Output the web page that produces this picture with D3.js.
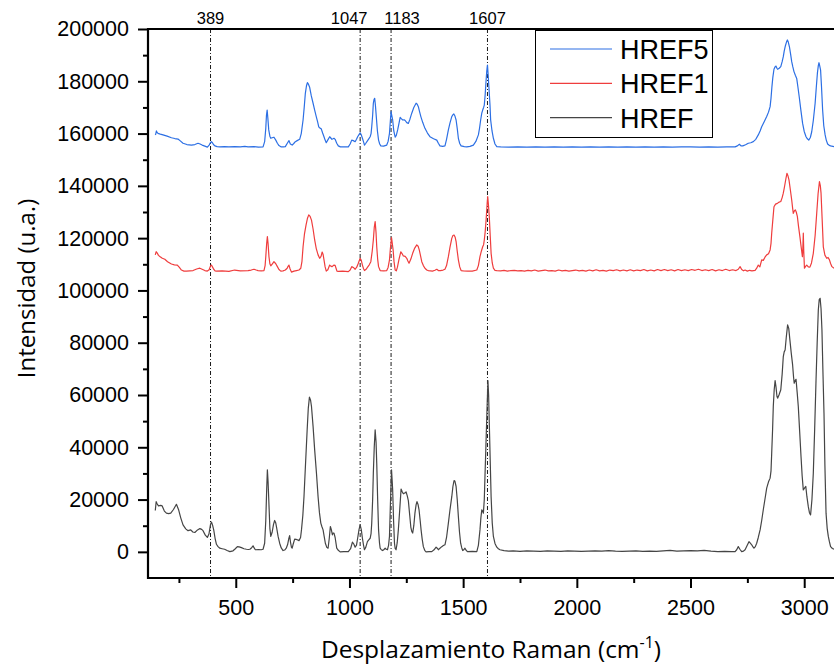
<!DOCTYPE html>
<html>
<head>
<meta charset="utf-8">
<script src="https://cdn.jsdelivr.net/npm/d3@7"></script>
<style>
  html, body { margin: 0; padding: 0; background: #fff; }
  svg { display: block; }
</style>
</head>
<body>
<div id="chart"></div>
<script>
// Raman spectra: wavenumber (cm-1), intensity (a.u., stacked with offsets)
const seriesNames = ["HREF5", "HREF1", "HREF"];
const seriesColors = ["#2c6fe4", "#ef3d3d", "#454545"];

const hrefData = [
[146,15800],[150,19200],[154,18400],[160,17600],[170,17800],[176,17600],[186,15600],[195,14800],[205,14600],[214,14800],[226,16200],[239,18200],[249,16000],[258,13000],[268,10300],[280,8800],[290,8100],[302,8400],[311,7600],[320,7400],[332,8400],[342,8900],[350,8600],[356,8100],[366,6400],[375,5500],[382,6800],[389,10500],[393,11400],[398,10200],[403,8400],[409,5200],[415,2900],[422,2000],[430,1400],[440,1200],[451,1000],[462,500],[474,100],[488,400],[498,1200],[507,2000],[515,1900],[525,1600],[536,1200],[547,1000],[555,900],[562,1000],[570,1600],[576,2300],[581,1500],[586,800],[600,900],[612,800],[620,1000],[627,3300],[632,12000],[636,24000],[639,31400],[642,27000],[646,18000],[650,9000],[654,5900],[660,7500],[666,10500],[671,12000],[676,11000],[680,9100],[686,6000],[693,3300],[700,1500],[708,500],[715,700],[722,1400],[728,2800],[733,5000],[737,6200],[741,3500],[745,1700],[748,1400],[752,2800],[759,4900],[765,4800],[771,4600],[778,4300],[785,5500],[789,8400],[795,14000],[800,21100],[807,34000],[814,46700],[819,55000],[824,59200],[829,58000],[833,55600],[840,48000],[847,39000],[855,30000],[862,21100],[868,15000],[874,11000],[879,9600],[884,8400],[889,5800],[894,3300],[900,1800],[906,1400],[911,5000],[916,9700],[920,8600],[925,6500],[928,7200],[932,7200],[937,5500],[944,1400],[951,600],[959,0],[975,100],[995,100],[1005,1200],[1013,3700],[1019,3000],[1025,1800],[1031,2600],[1036,5200],[1042,8500],[1047,10300],[1052,8500],[1057,5200],[1062,2500],[1066,800],[1072,1800],[1079,3900],[1085,4600],[1091,5200],[1095,7000],[1098,11000],[1102,20000],[1105,30100],[1109,40000],[1113,46700],[1117,42000],[1120,33900],[1124,20000],[1128,8400],[1132,3500],[1135,1400],[1140,800],[1146,500],[1152,900],[1157,1400],[1162,1000],[1167,800],[1172,2500],[1176,5900],[1180,18000],[1185,31400],[1188,27000],[1190,23700],[1194,12000],[1198,3300],[1201,1300],[1205,800],[1210,3500],[1215,8400],[1221,16000],[1227,24000],[1232,23000],[1237,22200],[1243,22500],[1249,22900],[1254,21500],[1259,19600],[1265,14000],[1270,9400],[1274,7800],[1278,7200],[1283,10000],[1288,14800],[1293,18000],[1297,19200],[1302,18000],[1306,16100],[1311,12000],[1315,8400],[1320,4800],[1325,2000],[1331,600],[1337,0],[1350,100],[1362,100],[1372,800],[1381,1800],[1386,1400],[1391,800],[1398,1400],[1406,2000],[1413,2400],[1420,2700],[1427,5500],[1435,11000],[1442,16000],[1450,21100],[1455,25000],[1460,27300],[1464,27000],[1469,25000],[1474,20000],[1479,13500],[1484,7500],[1489,3300],[1494,1500],[1498,500],[1503,800],[1508,1400],[1513,600],[1519,100],[1540,200],[1560,100],[1567,2500],[1574,8400],[1578,13000],[1582,16100],[1586,15500],[1589,14800],[1593,20000],[1596,28800],[1600,40000],[1604,51700],[1609,65500],[1612,60000],[1615,49200],[1619,35000],[1623,21100],[1628,11000],[1633,5900],[1640,3200],[1648,1800],[1655,1200],[1662,800],[1680,500],[1700,300],[1720,400],[1750,200],[1780,400],[1810,300],[1840,200],[1870,400],[1900,300],[1930,200],[1960,400],[1990,300],[2020,200],[2050,300],[2080,400],[2110,300],[2140,500],[2170,300],[2200,200],[2230,300],[2260,400],[2290,200],[2320,300],[2350,200],[2380,400],[2410,600],[2440,300],[2470,400],[2500,500],[2530,400],[2560,600],[2590,300],[2620,100],[2650,200],[2680,100],[2696,100],[2703,800],[2710,2000],[2717,1000],[2725,100],[2733,300],[2740,800],[2750,2600],[2757,3900],[2763,3300],[2769,2700],[2774,2000],[2779,1400],[2785,2000],[2791,3300],[2798,5500],[2806,8400],[2813,12000],[2820,16100],[2828,20500],[2835,24400],[2843,26800],[2850,28200],[2854,31000],[2857,37700],[2861,47000],[2864,55600],[2868,62000],[2872,65500],[2876,63000],[2880,59500],[2883,58800],[2889,60000],[2897,62000],[2903,68000],[2908,74700],[2912,76500],[2916,77200],[2921,82000],[2927,86800],[2932,85500],[2937,81100],[2943,76000],[2949,71500],[2953,67000],[2956,64500],[2960,65500],[2964,66000],[2969,61000],[2974,55600],[2980,46000],[2986,36400],[2991,29000],[2996,23700],[3002,24500],[3007,25000],[3012,21000],[3018,17300],[3023,15000],[3028,14100],[3034,20000],[3040,30100],[3046,47000],[3052,65800],[3057,80000],[3062,92500],[3066,96500],[3070,97000],[3074,93000],[3078,84900],[3082,70000],[3087,53000],[3091,33000],[3096,14800],[3101,9000],[3106,5900],[3111,3800],[3116,2000],[3124,1300],[3131,1000]
];

const href1Data = [
[146,113600],[150,114800],[154,114400],[160,113400],[166,113000],[177,112300],[188,111900],[200,111000],[217,110100],[230,109800],[243,109700],[252,108800],[261,107800],[272,107400],[283,107400],[298,107500],[312,107600],[328,108200],[342,108500],[352,108100],[364,107600],[375,107400],[383,107900],[389,109400],[393,109700],[398,108900],[403,108100],[409,107500],[415,107400],[440,107500],[470,107300],[495,107800],[520,107500],[554,107600],[568,107800],[580,108100],[590,107800],[598,107600],[612,107500],[624,107600],[629,109500],[632,112900],[636,118000],[639,120600],[642,118000],[646,112900],[650,110200],[654,109400],[661,110200],[668,111000],[676,110200],[683,109100],[690,108000],[698,107400],[708,107500],[718,107800],[726,108500],[730,109200],[734,109700],[739,108200],[745,107000],[756,107400],[767,107600],[778,107800],[786,108500],[791,111000],[796,116700],[802,121500],[809,125000],[815,127500],[821,128900],[827,128300],[833,126900],[840,123500],[847,119300],[854,116000],[862,113600],[869,112300],[875,113000],[880,114700],[884,113800],[888,111700],[893,109000],[898,107400],[905,107900],[913,109700],[918,109300],[923,109100],[928,109400],[932,109700],[937,109600],[941,108500],[945,107400],[951,107300],[970,107400],[995,107200],[1003,107800],[1010,109100],[1017,108800],[1025,108100],[1032,108900],[1039,110400],[1047,112300],[1052,111500],[1057,109700],[1062,108300],[1066,107600],[1072,108000],[1079,108800],[1087,109800],[1094,111000],[1100,115000],[1105,119300],[1109,124000],[1113,126300],[1117,122000],[1120,116700],[1124,112000],[1128,109100],[1135,107600],[1150,107500],[1164,107600],[1170,108800],[1176,111700],[1180,116000],[1185,120200],[1189,117500],[1192,115500],[1196,111000],[1201,107800],[1206,107500],[1211,108900],[1218,112000],[1226,114800],[1232,114000],[1237,113200],[1245,113000],[1252,112300],[1257,111300],[1262,110400],[1270,112000],[1278,114200],[1287,116200],[1296,117400],[1302,116900],[1307,115500],[1312,113500],[1318,111000],[1325,109500],[1332,108500],[1340,107800],[1347,107600],[1365,107400],[1376,107700],[1384,108100],[1391,107600],[1400,107600],[1412,107800],[1420,108100],[1427,109500],[1435,112900],[1442,116500],[1450,119900],[1455,121000],[1460,121200],[1465,120300],[1469,118700],[1474,115000],[1479,111700],[1485,109000],[1491,107600],[1501,107500],[1520,107400],[1540,107400],[1560,107800],[1567,109500],[1574,112900],[1580,115000],[1586,116700],[1590,117500],[1593,119300],[1597,122500],[1601,127000],[1605,132500],[1608,135900],[1611,133000],[1615,128200],[1619,121000],[1623,114200],[1628,110500],[1633,108500],[1640,107700],[1648,107600],[1665,107500],[1680,107700],[1695,107400],[1710,107600],[1725,107700],[1740,107500],[1755,107600],[1770,107400],[1785,107700],[1800,107500],[1815,107800],[1830,107400],[1845,107600],[1860,107800],[1875,107500],[1890,107600],[1905,107400],[1920,107800],[1935,107500],[1950,107700],[1965,107400],[1980,107600],[1995,107800],[2010,107500],[2025,107700],[2040,107400],[2055,107800],[2070,107500],[2085,107900],[2100,107500],[2115,107700],[2130,107400],[2145,107800],[2160,107600],[2175,107900],[2190,107500],[2205,107800],[2220,107500],[2235,107900],[2250,107500],[2265,107800],[2280,107600],[2295,108000],[2310,107500],[2325,107800],[2340,107500],[2355,108000],[2370,107600],[2385,108000],[2400,107600],[2415,107900],[2430,107500],[2445,108000],[2460,107600],[2475,107900],[2490,107600],[2505,108000],[2520,107700],[2535,108100],[2550,107600],[2565,107900],[2580,107600],[2595,108000],[2610,107500],[2625,107900],[2640,107600],[2655,108100],[2670,107600],[2685,107900],[2700,107600],[2710,108100],[2718,109100],[2725,108000],[2733,107500],[2740,107800],[2750,107400],[2760,107700],[2770,107500],[2784,107700],[2791,108500],[2798,109700],[2805,109000],[2813,111700],[2820,111500],[2828,112800],[2835,113600],[2843,114000],[2850,115500],[2854,118000],[2857,121900],[2862,127000],[2867,132000],[2874,133000],[2882,133300],[2890,133800],[2897,134000],[2903,135500],[2908,137200],[2912,139000],[2916,141000],[2920,143000],[2924,144800],[2928,144000],[2933,142300],[2939,138500],[2945,134600],[2949,131500],[2952,129500],[2957,130500],[2961,130800],[2965,130000],[2970,128200],[2975,124500],[2981,120600],[2986,117000],[2992,112900],[2994,116000],[2996,121900],[2998,115000],[3001,108500],[3006,109200],[3011,109700],[3018,109000],[3025,108900],[3032,110500],[3040,114200],[3048,121000],[3055,129500],[3061,137000],[3067,141600],[3071,140000],[3074,137200],[3079,127000],[3084,116700],[3091,113500],[3099,112300],[3105,112600],[3111,111700],[3116,110300],[3122,109100],[3131,108500]
];

const href5Data = [
[146,159500],[148,159800],[151,161000],[154,160400],[158,160100],[168,159800],[180,159500],[198,159000],[217,158400],[232,158100],[246,157900],[256,157200],[268,156300],[285,155800],[305,155600],[320,155800],[334,156300],[343,156000],[352,155600],[364,155200],[375,154800],[383,155600],[389,156600],[393,156900],[398,156400],[403,155700],[408,155300],[418,155000],[430,154900],[450,155000],[470,154900],[495,155000],[520,154900],[540,155100],[554,154900],[580,155000],[600,154800],[620,154900],[627,156900],[632,162000],[635,167000],[638,169000],[641,166000],[645,161400],[650,159000],[654,158200],[660,158400],[668,158600],[676,157500],[683,156300],[690,155400],[700,154900],[710,154900],[718,155000],[726,156200],[734,157300],[740,156000],[748,155600],[755,156200],[762,156900],[770,157300],[781,157800],[788,160000],[796,165200],[801,170000],[806,175400],[811,178300],[815,179500],[820,178800],[825,177700],[832,174500],[840,171600],[847,169000],[854,166500],[860,164500],[865,162600],[870,162100],[876,161800],[882,160200],[888,158800],[893,157500],[898,156500],[905,157600],[913,158800],[918,158300],[923,157800],[928,158000],[932,158200],[937,157800],[944,156300],[951,155300],[960,154900],[975,154900],[995,154900],[1003,156000],[1010,157500],[1017,157300],[1025,156900],[1031,157800],[1036,158800],[1042,159600],[1047,160300],[1052,159500],[1057,158200],[1062,156800],[1066,155600],[1072,156300],[1079,157200],[1085,158000],[1091,158800],[1095,160000],[1098,162600],[1102,167000],[1105,171600],[1108,173000],[1111,173500],[1114,171000],[1118,166500],[1123,161000],[1128,157500],[1133,156000],[1138,155300],[1150,155200],[1164,155600],[1170,157000],[1176,160100],[1180,165000],[1183,168400],[1186,167000],[1190,165200],[1195,161000],[1201,158600],[1206,159300],[1212,161400],[1218,164000],[1223,166200],[1228,165700],[1234,165200],[1240,165300],[1245,165000],[1252,164200],[1259,163900],[1266,165500],[1274,167800],[1283,170000],[1293,171600],[1298,171200],[1303,170300],[1308,168500],[1314,166500],[1322,164300],[1332,162000],[1343,160200],[1354,158800],[1370,158000],[1384,157500],[1391,156300],[1398,155300],[1410,155100],[1420,155300],[1427,157800],[1435,161400],[1442,164000],[1450,166500],[1455,167200],[1459,167500],[1464,166700],[1469,165200],[1474,162000],[1479,158200],[1485,156200],[1491,155300],[1505,155000],[1516,154900],[1530,155100],[1545,155600],[1556,157000],[1567,159500],[1572,162000],[1577,165200],[1582,167800],[1586,169000],[1590,170000],[1593,170900],[1597,175000],[1601,180500],[1604,184000],[1607,186200],[1610,182500],[1614,176700],[1618,171000],[1621,165200],[1627,161000],[1633,158200],[1640,156000],[1648,155000],[1665,154900],[1700,154800],[1740,154900],[1780,154800],[1820,154900],[1860,154800],[1900,154900],[1940,154800],[1980,154900],[2020,154800],[2060,154900],[2100,154800],[2140,154900],[2180,154800],[2220,154900],[2260,154800],[2300,154900],[2340,154800],[2380,154900],[2420,154800],[2460,154900],[2500,154900],[2540,154800],[2580,154900],[2620,154800],[2660,154900],[2696,154900],[2706,155300],[2715,155900],[2722,155300],[2730,155300],[2742,155700],[2754,156300],[2765,156500],[2776,156900],[2787,157800],[2798,159500],[2806,161000],[2813,162600],[2824,164500],[2835,166500],[2843,168200],[2850,170300],[2854,173500],[2858,177900],[2862,181500],[2867,184600],[2872,185600],[2876,185800],[2880,185000],[2883,184600],[2890,185000],[2897,185600],[2903,187500],[2908,189400],[2912,191500],[2917,193500],[2922,195000],[2926,195800],[2930,195000],[2935,193200],[2940,190500],[2945,187500],[2950,185500],[2955,183700],[2961,182300],[2967,181100],[2972,178000],[2978,174100],[2986,168500],[2993,163900],[3000,160800],[3008,158800],[3014,158000],[3020,157500],[3027,158500],[3033,160700],[3040,165000],[3048,171600],[3053,177500],[3058,183100],[3062,186000],[3065,187100],[3068,186000],[3072,184300],[3076,178000],[3081,169000],[3086,163000],[3092,159500],[3097,157500],[3103,156000],[3110,155500],[3116,155300],[3131,155000]
];

// Band positions marked with reference lines
const bandMarkers = [389, 1047, 1183, 1607];
// horizontal nudge of each band label (px) so neighbouring labels don't collide
const bandLabelShift = [0, -11, 11, 0];

const xMajorTicks = [500, 1000, 1500, 2000, 2500, 3000];
const xMinorTicks = [250, 750, 1250, 1750, 2250, 2750];
const yMajorTicks = [0, 20000, 40000, 60000, 80000, 100000, 120000, 140000, 160000, 180000, 200000];
const yMinorTicks = [10000, 30000, 50000, 70000, 90000, 110000, 130000, 150000, 170000, 190000];

const W = 834, H = 666;
const plot = { left: 148, right: 834, top: 29, bottom: 578 };

const svg = d3.select("#chart").append("svg")
  .attr("width", W).attr("height", H)
  .attr("viewBox", `0 0 ${W} ${H}`);

const x = d3.scaleLinear().domain([114, 3131]).range([plot.left, plot.right]);
const y = d3.scaleLinear().domain([-10000, 200000]).range([plot.bottom, plot.top]);

svg.append("defs").append("clipPath").attr("id", "plotClip")
  .append("rect")
  .attr("x", plot.left).attr("y", plot.top)
  .attr("width", plot.right - plot.left).attr("height", plot.bottom - plot.top);

const tickFont = "'Liberation Sans', Arial, sans-serif";

// Reference lines for the assigned bands
const markerG = svg.append("g");
bandMarkers.forEach((b, i) => {
  markerG.append("line")
    .attr("x1", x(b)).attr("x2", x(b))
    .attr("y1", plot.top).attr("y2", plot.bottom)
    .attr("stroke", "#000").attr("stroke-width", 0.9)
    .attr("stroke-dasharray", "4,2,1,2");
  markerG.append("text")
    .attr("x", x(b) + bandLabelShift[i]).attr("y", 24)
    .attr("text-anchor", "middle")
    .attr("font-family", tickFont).attr("font-size", 16.5)
    .text(b);
});

// Spectra
const line = d3.line().x(d => x(d[0])).y(d => y(d[1]));
const allSeries = [href5Data, href1Data, hrefData];
const linesG = svg.append("g").attr("clip-path", "url(#plotClip)");
allSeries.forEach((data, i) => {
  linesG.append("path")
    .datum(data)
    .attr("fill", "none")
    .attr("stroke", seriesColors[i])
    .attr("stroke-width", 1.2)
    .attr("stroke-linejoin", "round")
    .attr("d", line);
});

// Axes
const yAxis = d3.axisLeft(y).tickValues(yMajorTicks).tickSize(10).tickPadding(9)
  .tickFormat(d3.format("d"));
const yMinor = d3.axisLeft(y).tickValues(yMinorTicks).tickSize(5).tickFormat("");
const xAxis = d3.axisBottom(x).tickValues(xMajorTicks).tickSize(10).tickPadding(12)
  .tickFormat(d3.format("d"));
const xMinor = d3.axisBottom(x).tickValues(xMinorTicks).tickSize(5).tickFormat("");

function styleAxis(g) {
  g.select(".domain").remove();
  g.selectAll("line").attr("stroke", "#000").attr("stroke-width", 2);
  g.selectAll("text").attr("font-family", tickFont).attr("font-size", 21.5).attr("fill", "#000");
}

svg.append("g").attr("transform", `translate(${plot.left},0)`).call(yAxis).call(styleAxis);
svg.append("g").attr("transform", `translate(${plot.left},0)`).call(yMinor).call(styleAxis);
svg.append("g").attr("transform", `translate(0,${plot.bottom})`).call(xAxis).call(styleAxis);
svg.append("g").attr("transform", `translate(0,${plot.bottom})`).call(xMinor).call(styleAxis);

// Frame lines (left, bottom, top)
svg.append("line").attr("x1", plot.left).attr("x2", plot.left)
  .attr("y1", plot.top - 1).attr("y2", plot.bottom + 1)
  .attr("stroke", "#000").attr("stroke-width", 2.2);
svg.append("line").attr("x1", plot.left - 1).attr("x2", plot.right)
  .attr("y1", plot.bottom).attr("y2", plot.bottom)
  .attr("stroke", "#000").attr("stroke-width", 2.2);
svg.append("line").attr("x1", plot.left - 1).attr("x2", plot.right)
  .attr("y1", plot.top).attr("y2", plot.top)
  .attr("stroke", "#000").attr("stroke-width", 2.2);

// Axis titles
const titleFont = "'Open Sans', 'Noto Sans', sans-serif";
svg.append("text")
  .attr("transform", `translate(35,${(plot.top + plot.bottom) / 2 - 15}) rotate(-90)`)
  .attr("text-anchor", "middle")
  .attr("font-family", titleFont).attr("font-size", 24)
  .text("Intensidad (u.a.)");

const xTitle = svg.append("text")
  .attr("x", 491).attr("y", 658)
  .attr("text-anchor", "middle")
  .attr("font-family", titleFont).attr("font-size", 24.5);
xTitle.append("tspan").text("Desplazamiento Raman (cm");
xTitle.append("tspan").attr("font-size", 16).attr("dy", -10).text("-1");
xTitle.append("tspan").attr("dy", 10).text(")");

// Legend
const legend = svg.append("g");
legend.append("rect")
  .attr("x", 535.5).attr("y", 30.5).attr("width", 177).attr("height", 107)
  .attr("fill", "#fff").attr("stroke", "#000").attr("stroke-width", 1);
seriesNames.forEach((name, i) => {
  const ly = 49 + i * 34.3;
  legend.append("line")
    .attr("x1", 550).attr("x2", 612).attr("y1", ly).attr("y2", ly)
    .attr("stroke", seriesColors[i]).attr("stroke-width", 1.2);
  legend.append("text")
    .attr("x", 620).attr("y", ly + 10)
    .attr("font-family", tickFont).attr("font-size", 27)
    .text(name);
});
</script>
</body>
</html>
